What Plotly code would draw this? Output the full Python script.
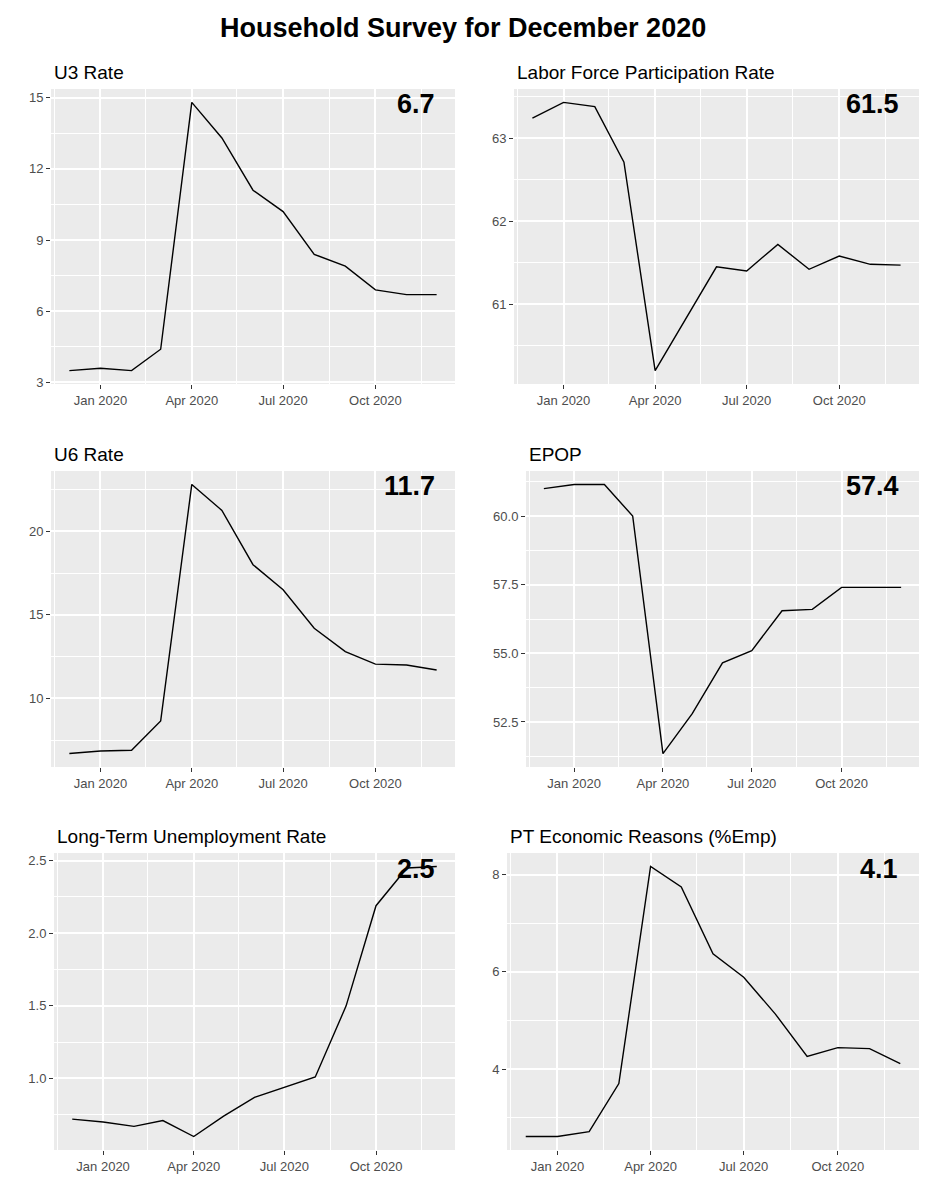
import pandas as pd
import plotly.graph_objects as go

# ---------------- data ----------------
months = ["2019-12-01", "2020-01-01", "2020-02-01", "2020-03-01", "2020-04-01",
          "2020-05-01", "2020-06-01", "2020-07-01", "2020-08-01", "2020-09-01",
          "2020-10-01", "2020-11-01", "2020-12-01"]

u3_rate = [3.5, 3.6, 3.5, 4.4, 14.8, 13.3, 11.1, 10.2, 8.4, 7.9, 6.9, 6.7, 6.7]
lfpr = [63.24, 63.43, 63.38, 62.71, 60.20, 60.82, 61.45, 61.40, 61.72, 61.42, 61.58, 61.48, 61.47]
u6_rate = [6.7, 6.85, 6.9, 8.65, 22.8, 21.25, 18.0, 16.5, 14.2, 12.8, 12.05, 12.0, 11.7]
epop = [61.0, 61.15, 61.15, 60.0, 51.35, 52.8, 54.65, 55.1, 56.55, 56.6, 57.4, 57.4, 57.4]
ltu_rate = [0.72, 0.70, 0.67, 0.71, 0.60, 0.74, 0.87, 0.94, 1.01, 1.50, 2.19, 2.45, 2.46]
pt_econ = [2.61, 2.61, 2.71, 3.70, 8.17, 7.75, 6.37, 5.89, 5.13, 4.26, 4.44, 4.42, 4.11]

titles = ["U3 Rate", "Labor Force Participation Rate", "U6 Rate", "EPOP",
          "Long-Term Unemployment Rate", "PT Economic Reasons (%Emp)"]
main_title = "Household Survey for December 2020"

x_tickvals = ["2020-01-01", "2020-04-01", "2020-07-01", "2020-10-01"]
x_ticktext = ["Jan 2020", "Apr 2020", "Jul 2020", "Oct 2020"]
x_minor = ["2019-11-16", "2020-02-15", "2020-05-16", "2020-08-16", "2020-11-16"]

y_ticks = [
    [3, 6, 9, 12, 15],
    [61, 62, 63],
    [10, 15, 20],
    [52.5, 55.0, 57.5, 60.0],
    [1.0, 1.5, 2.0, 2.5],
    [4, 6, 8],
]
y_ticktext = [
    ["3", "6", "9", "12", "15"],
    ["61", "62", "63"],
    ["10", "15", "20"],
    ["52.5", "55.0", "57.5", "60.0"],
    ["1.0", "1.5", "2.0", "2.5"],
    ["4", "6", "8"],
]
y_minor = [
    [4.5, 7.5, 10.5, 13.5],
    [60.5, 61.5, 62.5, 63.5],
    [7.5, 12.5, 17.5, 22.5],
    [51.25, 53.75, 56.25, 58.75, 61.25],
    [0.75, 1.25, 1.75, 2.25],
    [3, 5, 7],
]

series = [u3_rate, lfpr, u6_rate, epop, ltu_rate, pt_econ]

# ---------------- layout (pixel boxes: left, right, top, bottom) ----------------
W, H = 927, 1200
panels_px = [
    (51, 455, 89, 384),
    (514, 919, 89, 384),
    (51, 455, 471, 767),
    (526, 919, 471, 767),
    (54, 455, 853, 1150),
    (507, 919, 853, 1150),
]

FONT = "Liberation Sans, Arial, sans-serif"
fig = go.Figure()

dates = pd.to_datetime(months)
span = dates.max() - dates.min()
x_range = [dates.min() - span * 0.05, dates.max() + span * 0.05]

layout_axes = {}
annotations = []
for i, (vals, (l, r, t, b)) in enumerate(zip(series, panels_px)):
    n = i + 1
    xa = "x" if n == 1 else f"x{n}"
    ya = "y" if n == 1 else f"y{n}"
    fig.add_trace(go.Scatter(
        x=months, y=vals, mode="lines",
        line=dict(color="black", width=1.4),
        xaxis=xa, yaxis=ya, showlegend=False, hoverinfo="x+y"))

    lo, hi = min(vals), max(vals)
    pad = (hi - lo) * 0.05
    common = dict(
        showline=False, zeroline=False, automargin=False,
        ticks="outside", ticklen=4, tickwidth=1.4, tickcolor="#333333",
        tickfont=dict(family=FONT, size=13, color="#4D4D4D"),
        showgrid=True, gridcolor="white", gridwidth=1.5,
    )
    layout_axes["xaxis" if n == 1 else f"xaxis{n}"] = dict(
        type="date", range=x_range,
        domain=[l / W, r / W], anchor=ya,
        tickmode="array", tickvals=x_tickvals, ticktext=x_ticktext,
        minor=dict(tickvals=x_minor, showgrid=True, gridcolor="white",
                   gridwidth=0.8, ticks=""),
        **common)
    layout_axes["yaxis" if n == 1 else f"yaxis{n}"] = dict(
        range=[lo - pad, hi + pad],
        domain=[1 - b / H, 1 - t / H], anchor=xa,
        tickmode="array", tickvals=y_ticks[i], ticktext=y_ticktext[i],
        minor=dict(tickvals=y_minor[i], showgrid=True, gridcolor="white",
                   gridwidth=0.8, ticks=""),
        **common)

    # panel title
    annotations.append(dict(
        text=titles[i], xref="paper", yref="paper",
        x=(l + 1) / W, y=1 - (t - 17) / H, xanchor="left", yanchor="middle",
        showarrow=False, font=dict(family=FONT, size=19, color="black")))
    # latest value label
    annotations.append(dict(
        text=f"<b>{vals[-1]:.1f}</b>", xref=xa, yref=ya,
        x=months[-1], y=hi, xanchor="right", yanchor="middle", yshift=-2,
        showarrow=False, font=dict(family=FONT, size=27, color="black")))

annotations.append(dict(
    text=f"<b>{main_title}</b>", xref="paper", yref="paper",
    x=463 / W, y=1 - 28 / H, xanchor="center", yanchor="middle",
    showarrow=False, font=dict(family=FONT, size=27, color="black")))

fig.update_layout(
    width=W, height=H,
    margin=dict(l=0, r=0, t=0, b=0, autoexpand=False),
    paper_bgcolor="white", plot_bgcolor="#EBEBEB",
    showlegend=False,
    annotations=annotations,
    **layout_axes,
)

fig.write_html("out.html",
               config={"displayModeBar": False},
               post_script="document.body.style.margin='0';document.body.style.padding='0';")
